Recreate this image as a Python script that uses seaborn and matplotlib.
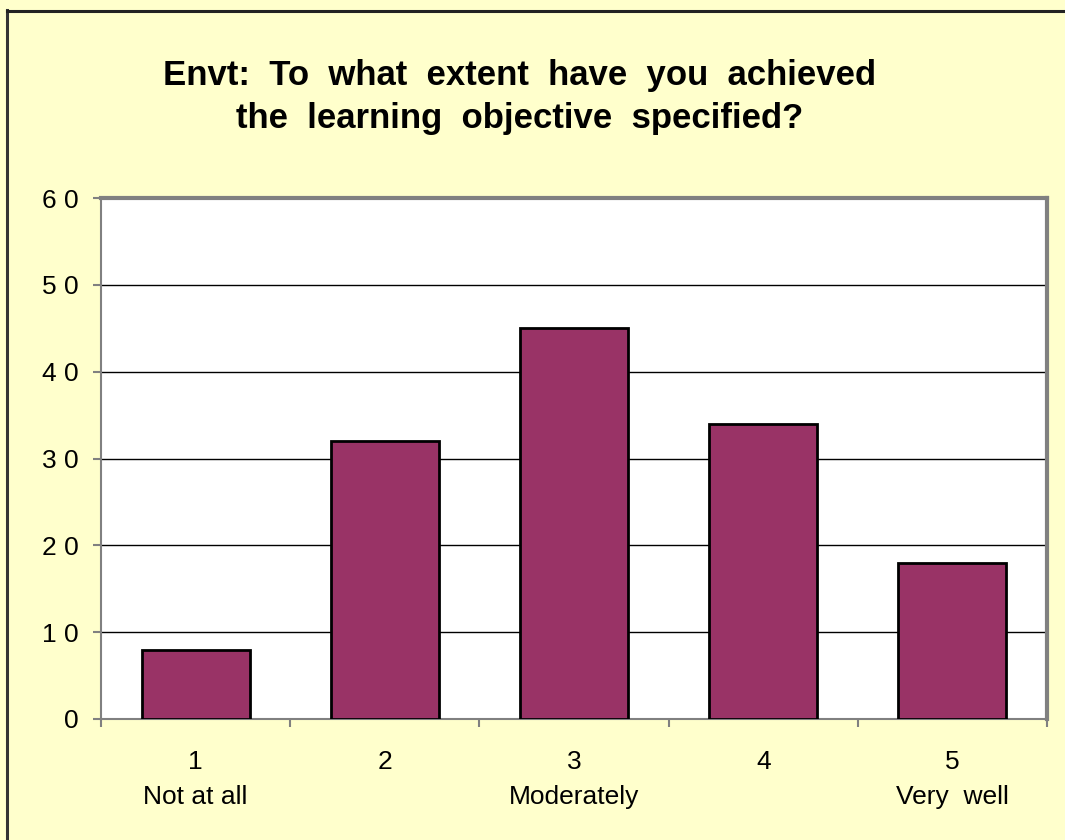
import matplotlib
matplotlib.use("Agg")
import matplotlib.pyplot as plt
from matplotlib.lines import Line2D
from matplotlib.ticker import FuncFormatter, MultipleLocator, FixedLocator
import pandas as pd
import seaborn as sns

# data
ratings = ["1\nNot at all", "2", "3\nModerately", "4", "5\nVery  well"]
counts = [8, 32, 45, 34, 18]
title_lines = ["Envt: To what extent have you achieved",
               "the learning objective specified?"]

plt.rcParams['font.family'] = ['Liberation Sans', 'DejaVu Sans']

df = pd.DataFrame({"rating": ratings, "count": counts})

fig = plt.figure(figsize=(10.65, 8.4), dpi=100, facecolor="#FFFFCC")
ax = fig.add_axes([101 / 1065, 1 - 719 / 840, (1047 - 101) / 1065, (719 - 198) / 840])
ax.set_facecolor("white")

sns.barplot(data=df, x="rating", y="count", color="#993366", edgecolor="black",
            linewidth=2, width=0.57, saturation=1, ax=ax, zorder=3)

ax.set_ylim(0, 60)
ax.set_xlim(-0.5, 4.5)
ax.yaxis.set_major_locator(MultipleLocator(10))
ax.yaxis.set_major_formatter(FuncFormatter(lambda v, p: " ".join(f"{v:.0f}")))
ax.grid(axis="y", color="black", linewidth=1, zorder=0)
ax.set_axisbelow(True)

# category ticks at the boundaries, labels at the centres
ax.xaxis.set_minor_locator(FixedLocator([i - 0.5 for i in range(6)]))
ax.tick_params(axis="x", which="major", length=0, pad=22, labelsize=19)
ax.tick_params(axis="x", which="minor", length=6, color="#808080", width=1.5)
ax.tick_params(axis="y", length=6, color="#808080", width=1.5, pad=10, labelsize=19)
for lbl in ax.get_xticklabels():
    lbl.set_linespacing(1.6)

ax.set_xlabel("")
ax.set_ylabel("")
for s in ax.spines.values():
    s.set_color("#808080")
    s.set_linewidth(1.5)
ax.spines["right"].set_linewidth(3)
ax.spines["top"].set_linewidth(3)

# wide word spacing as in the original title
title = "\n".join("  ".join(line.split()) for line in title_lines)
fig.text(0.488, 1 - 97 / 840, title, ha="center", va="center", fontsize=25,
         fontweight="bold", linespacing=1.36)

# chart frame (only left and top edges visible in the crop)
fig.add_artist(Line2D([7 / 1065, 7 / 1065], [0, 1 - 10 / 840], color="#333333", linewidth=2.2))
fig.add_artist(Line2D([7 / 1065, 1], [1 - 11 / 840, 1 - 11 / 840], color="#222222", linewidth=2.2))

fig.savefig("out.png", dpi=100, facecolor=fig.get_facecolor())
